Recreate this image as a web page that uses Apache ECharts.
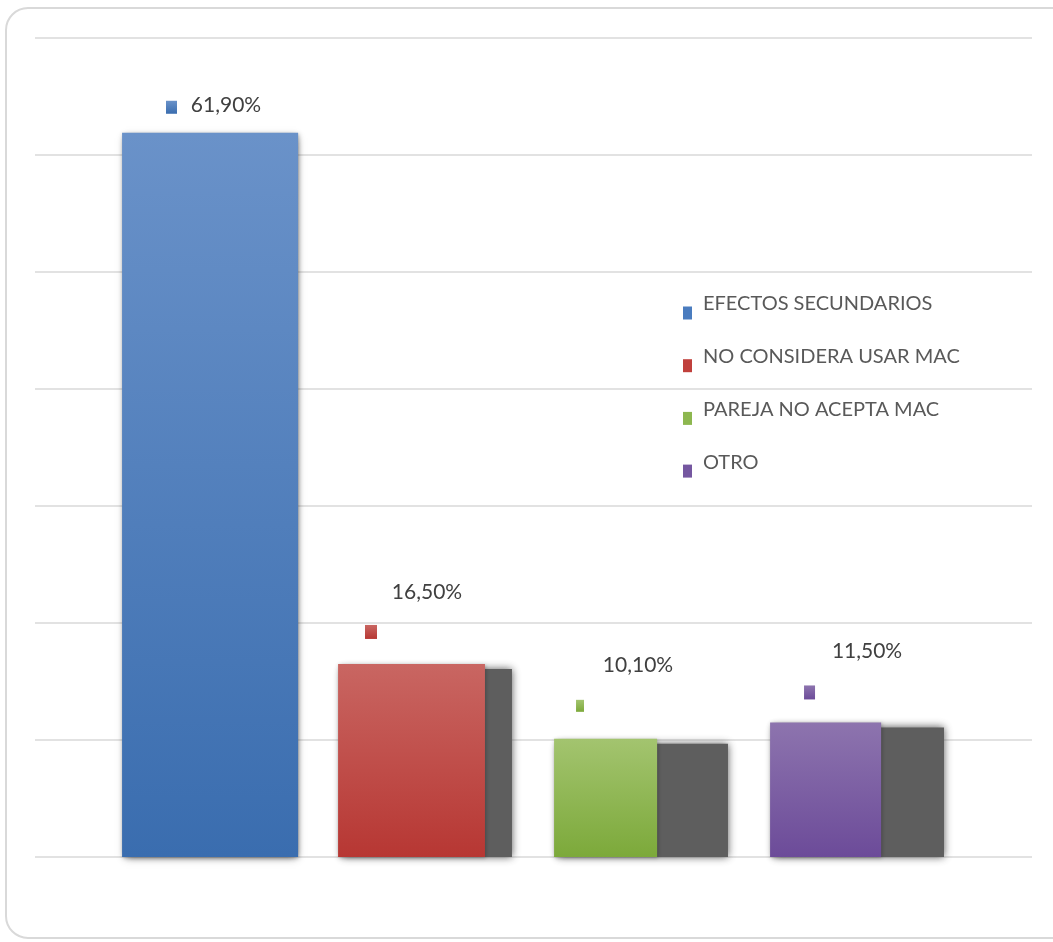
<!DOCTYPE html>
<html lang="es">
<head>
    <meta charset="UTF-8">
    <title>Razones de no uso de MAC</title>
    <script src="https://cdn.jsdelivr.net/npm/echarts@6/dist/echarts.min.js"></script>
    <style>
        html, body { margin: 0; padding: 0; background: #fff; }
    </style>
</head>
<body>
    <div id="myChart" style="width: 1053px; height: 942px;"></div>

    <script>
        // datos
        const categories = ['EFECTOS SECUNDARIOS', 'NO CONSIDERA USAR MAC', 'PAREJA NO ACEPTA MAC', 'OTRO'];
        const values = [61.9, 16.5, 10.1, 11.5];
        const valueLabels = ['61,90%', '16,50%', '10,10%', '11,50%'];

        // estilo de cada barra (colores, ancho relativo, posicion de etiqueta)
        const topColors = ['#6a92c9', '#c96662', '#a3c46f', '#8d74ae'];
        const bottomColors = ['#3a6daf', '#b73733', '#7ca93a', '#6c4b99'];
        const keyColors = ['#4a7cbf', '#c0403c', '#8db74f', '#7557a0'];
        const widthFrac = [0.815, 0.68, 0.477, 0.514];
        // [dx, dy, w, h] del cuadrito y [dx, dy] del texto, respecto al tope de la barra
        const keyBox = [[-43, -32, 11, 13], [-60, -39, 12, 14], [-65, -39, 8, 12], [-53, -37, 11, 14]];
        const textPos = [[17, -28], [2, -72], [-3, -74], [10, -71]];

        function renderItem(params, api) {
            const i = params.seriesIndex;
            const x = api.value(0);
            const top = api.coord([x, api.value(1)]);
            const base = api.coord([x, 0]);
            const unit = api.size([1, 0])[0];
            const slotW = unit * 0.805;
            const left = top[0] - slotW / 2;
            const colW = unit * widthFrac[i];
            const k = keyBox[i];
            const t = textPos[i];
            return {
                type: 'group',
                children: [
                    {
                        type: 'rect',
                        shape: { x: left + 4, y: top[1] + 5, width: slotW - 4, height: base[1] - top[1] - 5 },
                        style: { fill: '#5e5e5e', shadowBlur: 8, shadowColor: 'rgba(70,70,70,0.9)' }
                    },
                    {
                        type: 'rect',
                        shape: { x: left, y: top[1], width: colW, height: base[1] - top[1] },
                        style: {
                            fill: new echarts.graphic.LinearGradient(0, 0, 0, 1, [
                                { offset: 0, color: topColors[i] },
                                { offset: 1, color: bottomColors[i] }
                            ]),
                            shadowBlur: 4, shadowOffsetX: 1, shadowOffsetY: 1,
                            shadowColor: 'rgba(0,0,0,0.25)'
                        }
                    },
                    {
                        type: 'rect',
                        shape: { x: top[0] + k[0], y: top[1] + k[1], width: k[2], height: k[3] },
                        style: {
                            fill: new echarts.graphic.LinearGradient(0, 0, 0, 1, [
                                { offset: 0, color: topColors[i] },
                                { offset: 1, color: bottomColors[i] }
                            ])
                        }
                    },
                    {
                        type: 'text',
                        x: top[0] + t[0],
                        y: top[1] + t[1],
                        style: {
                            text: valueLabels[i],
                            fill: '#404040',
                            font: '21px Lato',
                            align: 'center',
                            verticalAlign: 'middle'
                        }
                    }
                ]
            };
        }

        const chartDom = document.getElementById('myChart');
        const myChart = echarts.init(chartDom);
        const option = {
            animation: false,
            graphic: [{
                type: 'rect',
                shape: { x: 6, y: 8, width: 1080, height: 930, r: 22 },
                style: { fill: 'none', stroke: '#d9d9d9', lineWidth: 2 },
                silent: true
            }],
            grid: { left: 35, right: 21, top: 38, bottom: 85 },
            legend: {
                orient: 'vertical',
                left: 683,
                top: 294,
                padding: 0,
                itemWidth: 9,
                itemHeight: 13,
                itemGap: 14.7,
                icon: 'rect',
                formatter: name => name + '\n',
                textStyle: {
                    fontFamily: 'Lato',
                    fontSize: 20,
                    color: '#595959',
                    lineHeight: 18,
                    padding: [0, 0, 0, 6]
                },
                data: categories.map((c, i) => ({
                    name: c,
                    itemStyle: { color: keyColors[i] }
                }))
            },
            xAxis: {
                type: 'value',
                min: -0.8056,
                max: 3.81,
                show: false
            },
            yAxis: {
                type: 'value',
                min: 0,
                max: 70,
                interval: 10,
                axisLine: { show: false },
                axisTick: { show: false },
                axisLabel: { show: false },
                splitLine: { lineStyle: { color: '#d9d9d9', width: 1.5 } }
            },
            series: categories.map((c, i) => ({
                name: c,
                type: 'custom',
                renderItem: renderItem,
                itemStyle: { color: keyColors[i] },
                data: [[i, values[i]]]
            }))
        };
        myChart.setOption(option);
    </script>
</body>
</html>
